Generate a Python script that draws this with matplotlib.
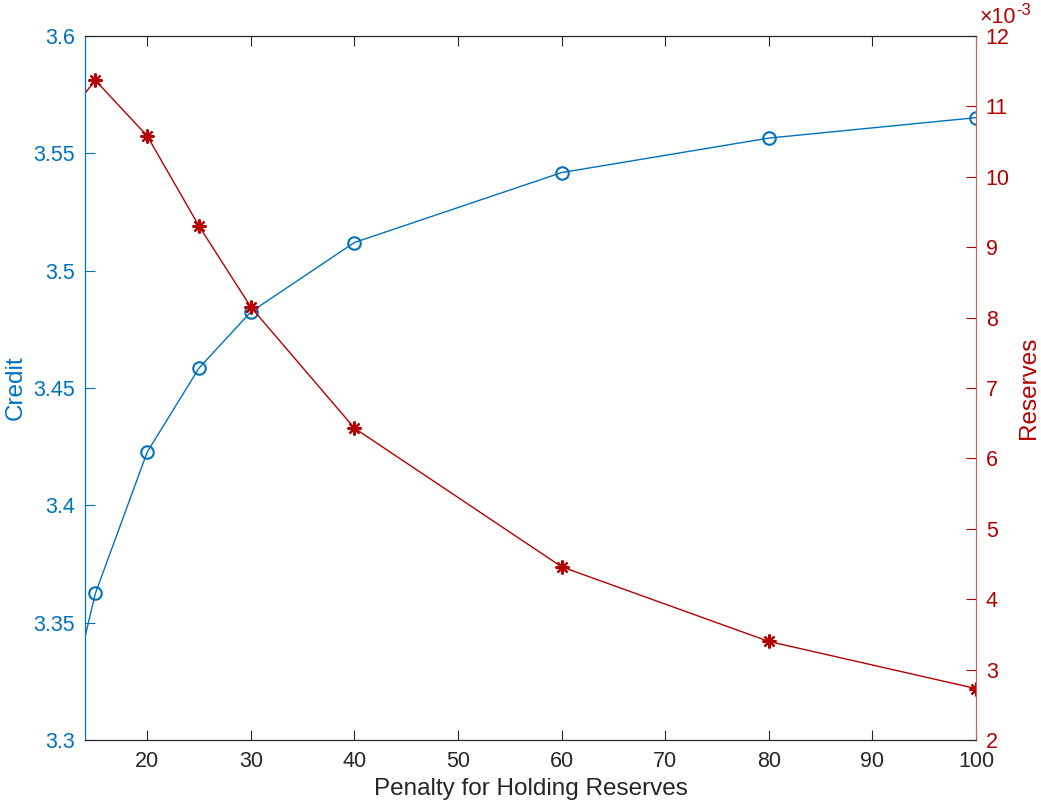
import numpy as np
import matplotlib.pyplot as plt
from matplotlib.ticker import FuncFormatter

plt.rcParams['font.family'] = ['Liberation Sans', 'DejaVu Sans']

# data (first point lies left of the visible range)
penalty = [10, 15, 20, 25, 30, 40, 60, 80, 100]
credit = [3.270, 3.3625, 3.4227, 3.4585, 3.4824, 3.5120, 3.5418, 3.5565, 3.5652]
reserves = [0.01047, 0.01137, 0.01058, 0.00930, 0.00815, 0.00643, 0.00446, 0.00340, 0.00273]

blue = '#0072BD'
red = '#B30000'
dark = '#262626'

fig = plt.figure(figsize=(10.41, 8.09), dpi=100)
ax = fig.add_axes([0.0817, 0.0853, 0.9376 - 0.0817, 0.9555 - 0.0853])
ax2 = ax.twinx()

ax.plot(penalty, credit, '-o', color=blue, lw=1, ms=9, mfc='none', mew=1.5)
ax2.plot(penalty, reserves, '-', color=red, lw=1)
ax2.plot(penalty, reserves, ls='none', marker=(8, 2, 0), color=red, ms=10, mew=1.6)

ax.set_xlim(14, 100)
ax.set_ylim(3.3, 3.6)
ax2.set_ylim(0.002, 0.012)
ax.set_xticks(range(20, 101, 10))
ax.set_yticks(np.arange(3.3, 3.601, 0.05))
ax.yaxis.set_major_formatter(FuncFormatter(lambda v, p: f'{v:.2f}'.rstrip('0').rstrip('.')))
ax2.set_yticks(np.arange(0.002, 0.0121, 0.001))
ax2.yaxis.set_major_formatter(FuncFormatter(lambda v, p: f'{v * 1000:.0f}'))

ax.tick_params(axis='x', direction='in', top=True, colors=dark, labelsize=15.5, length=7, pad=8)
ax.tick_params(axis='y', direction='in', colors=blue, labelsize=15.5, length=7, pad=7)
ax2.tick_params(axis='y', direction='in', colors=red, labelsize=15.5, length=7, pad=7)

ax.spines['left'].set_color(blue)
ax2.spines['left'].set_color(blue)
ax.spines['right'].set_color('#D06060')
ax2.spines['right'].set_color('#D06060')
for a in (ax, ax2):
    a.spines['top'].set_color(dark)
    a.spines['bottom'].set_color(dark)
    for s in a.spines.values():
        s.set_linewidth(0.8)

ax.set_xlabel('Penalty for Holding Reserves', fontsize=17.5, color=dark, labelpad=4)
ax.set_ylabel('Credit', fontsize=17.5, color=blue, labelpad=5)
ax2.set_ylabel('Reserves', fontsize=17.5, color=red, labelpad=6)

# exponent label for the right axis
fig.text(0.941, 0.978, '\u00d710', fontsize=15.5, color=red, ha='left', va='center')
fig.text(0.9765, 0.987, '-3', fontsize=12, color=red, ha='left', va='center')

fig.savefig('out.png', dpi=100)
